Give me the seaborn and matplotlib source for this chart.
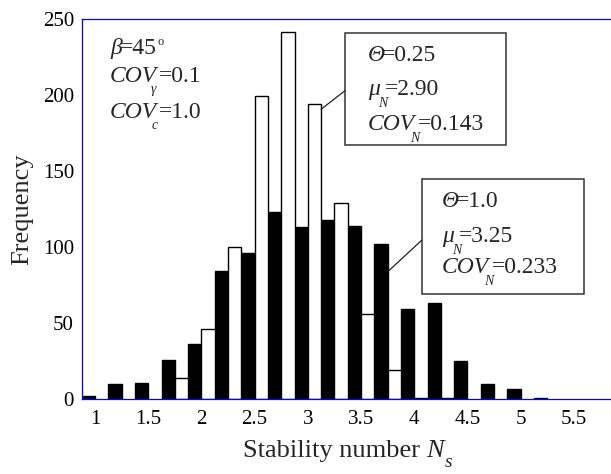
import matplotlib
matplotlib.use('Agg')
import matplotlib.pyplot as plt
import seaborn as sns
import pandas as pd
from matplotlib.patches import Rectangle
from matplotlib.lines import Line2D

# ---------------- data ----------------
bin_centers = [1.0, 1.25, 1.5, 1.75, 2.0, 2.25, 2.5, 2.75, 3.0, 3.25,
               3.5, 3.75, 4.0, 4.25, 4.5, 4.75, 5.0, 5.25, 5.5, 5.75]
freq_theta_1_0 = [2, 10, 11, 26, 36, 84, 96, 123, 113, 118,
                  114, 102, 59, 63, 25, 10, 7, 1, 0, 0]
freq_theta_0_25 = [0, 0, 0, 14, 46, 100, 199, 241, 194, 129,
                   56, 19, 1, 1, 0, 0, 0, 0, 0, 0]
tick_labels = ['1', '1.5', '2', '2.5', '3', '3.5', '4', '4.5', '5', '5.5']
y_ticks = [0, 50, 100, 150, 200, 250]

W, H = 611, 474
sns.set_style('white')
plt.rcParams['font.family'] = ['Liberation Serif', 'DejaVu Serif']

bin_names = [f"{v:.2f}" for v in bin_centers]
df = pd.DataFrame({
    'bin': bin_names * 2,
    'Frequency': freq_theta_1_0 + freq_theta_0_25,
    'theta': ['1.0'] * len(bin_names) + ['0.25'] * len(bin_names),
})

fig = plt.figure(figsize=(W / 100, H / 100), dpi=100)
left_px, top_px, bottom_px = 81.7, 18.7, 399.3
ax = fig.add_axes([left_px / W, 1 - bottom_px / H, (W - left_px) / W, (bottom_px - top_px) / H])

sns.barplot(data=df, x='bin', y='Frequency', hue='theta', order=bin_names,
            hue_order=['1.0', '0.25'], palette={'1.0': 'black', '0.25': 'white'},
            edgecolor='black', linewidth=1.0, width=1.0, gap=0, legend=False, ax=ax)
for p in ax.patches:
    if p.get_height() == 0:
        p.set_visible(False)
ax.set_axisbelow(False)

n = len(bin_names)
ax.set_xlim(-0.5, -0.5 + (W - left_px) / 26.6)
ax.set_ylim(0, 250)
blue = '#0000FF'
for s in ['left', 'top', 'bottom']:
    ax.spines[s].set_color(blue)
    ax.spines[s].set_linewidth(0.9)
    ax.spines[s].set_zorder(3)
ax.spines['right'].set_visible(False)

ax.set_xticks(list(range(0, n - 1, 2)))
ax.set_xticklabels(tick_labels)
ax.set_xticks([i + 0.5 for i in range(n - 1)], minor=True)
ax.tick_params(axis='x', which='major', length=0, pad=8, labelsize=15, labelcolor='black')
ax.tick_params(axis='x', which='minor', direction='in', length=7.5, width=0.9, color=blue)
ax.set_yticks(y_ticks)
ax.tick_params(axis='y', direction='in', length=7.5, width=0.9, color=blue,
               pad=5.5, labelsize=15, labelcolor='black')
ax.set_xlabel('')
ax.set_ylabel('Frequency', fontsize=19)
ax.yaxis.set_label_coords((33 - left_px) / (W - left_px), 0.5)

renderer = fig.canvas.get_renderer()


def seq(x, y, parts):
    """Draw consecutive text pieces starting at pixel (x, baseline y)."""
    for p in parts:
        s, size, style = p[0], p[1], p[2]
        dy = p[3] if len(p) > 3 else 0
        dx = p[4] if len(p) > 4 else 0
        adv = p[5] if len(p) > 5 else True
        x += dx
        t = fig.text(x / W, 1 - (y + dy) / H, s, fontsize=size, style=style,
                     va='baseline', ha='left')
        if adv:
            x += t.get_window_extent(renderer).width


FS, SUB = 17, 10
# top-left parameters
seq(110, 54.3, [('β', FS, 'italic'), ('=45', FS, 'normal', 0, -2), ('o', 9, 'normal', -9.5, 0.5)])
seq(110, 82.3, [('COV', FS, 'italic'), ('γ', SUB, 'italic', 11, -6, False), ('=0.1', FS, 'normal', 0, 8)])
seq(110, 118.3, [('COV', FS, 'italic'), ('c', SUB, 'italic', 11, -6, False), ('=1.0', FS, 'normal', 0, 8)])

# box 1 (Theta = 0.25)
fig.patches.append(Rectangle((345 / W, 1 - 145 / H), (506 - 345) / W, (145 - 33) / H,
                             transform=fig.transFigure, fill=False, edgecolor='#333333', lw=1.1))
fig.lines.append(Line2D([345 / W, 321 / W], [1 - 90.7 / H, 1 - 109.3 / H],
                        transform=fig.transFigure, color='#222222', lw=0.9))
seq(367.7, 60.7, [('Θ', FS, 'italic'), ('=0.25', FS, 'normal', 0, -3)])
seq(367.7, 95, [('μ', FS, 'italic'), ('N', SUB, 'italic', 12, -1, False), ('=2.90', FS, 'normal', 0, 6)])
seq(367.7, 130, [('COV', FS, 'italic'), ('N', SUB, 'italic', 12, -5, False), ('=0.143', FS, 'normal', 0, 8)])

# box 2 (Theta = 1.0)
fig.patches.append(Rectangle((422 / W, 1 - 294 / H), (584 - 422) / W, (294 - 178.5) / H,
                             transform=fig.transFigure, fill=False, edgecolor='#333333', lw=1.1))
fig.lines.append(Line2D([422 / W, 389 / W], [1 - 240 / H, 1 - 270.5 / H],
                        transform=fig.transFigure, color='#222222', lw=0.9))
seq(441.7, 206.7, [('Θ', FS, 'italic'), ('=1.0', FS, 'normal', 0, -3)])
seq(441.7, 241.7, [('μ', FS, 'italic'), ('N', SUB, 'italic', 12, -1, False), ('=3.25', FS, 'normal', 0, 6)])
seq(441.7, 273.3, [('COV', FS, 'italic'), ('N', SUB, 'italic', 12, -5, False), ('=0.233', FS, 'normal', 0, 8)])

# x-axis label
seq(242.7, 456.7, [('Stability number ', 19, 'normal'), ('N', 19, 'italic'), ('s', 14, 'italic', 10, 1)])

fig.savefig('out.png', dpi=100)
